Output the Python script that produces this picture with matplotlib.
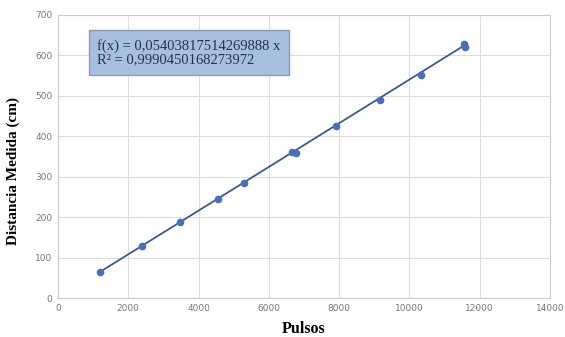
import matplotlib.pyplot as plt
import numpy as np

# measured data
pulsos = [1200, 2380, 3480, 4550, 5300, 6650, 6780, 7920, 9150, 10340, 11560, 11580]
distancia = [64, 128, 188, 245, 285, 360, 358, 425, 490, 552, 628, 620]

slope = 0.05403817514269888
eq_text = "f(x) = 0,05403817514269888 x\nR² = 0,9990450168273972"

fig = plt.figure(figsize=(5.65, 3.37), dpi=100)
ax = fig.add_axes([58/565, 1-298/337, (550-58)/565, (298-15)/337])

# trendline through origin
xfit = np.array([min(pulsos), max(pulsos)])
ax.plot(xfit, slope*xfit, color='#3d5a8a', lw=1.3, zorder=3)
ax.plot(pulsos, distancia, 'o', color='#4a6fb5', ms=4.5, zorder=4)

ax.set_xlim(0, 14000)
ax.set_ylim(0, 700)
ax.set_xticks(np.arange(0, 14001, 2000))
ax.set_yticks(np.arange(0, 701, 100))
ax.grid(True, color='#dddddd', lw=0.8)
ax.set_axisbelow(True)
for s in ['top', 'right', 'left', 'bottom']:
    ax.spines[s].set_color('#cccccc')
ax.tick_params(length=0, labelsize=6.5, colors='#777777', pad=4)

ax.set_xlabel('Pulsos', family='Liberation Serif', fontweight='bold', fontsize=11.5, labelpad=6)
ax.set_ylabel('Distancia Medida (cm)', family='Liberation Serif', fontweight='bold', fontsize=11)
ax.yaxis.set_label_coords(-0.078, 0.45)

ax.text(0.08, 0.915, eq_text, transform=ax.transAxes, family='Liberation Serif',
        fontsize=10.5, va='top', ha='left', color='#223355', linespacing=1.0,
        bbox=dict(boxstyle='square,pad=0.6', fc='#a9bfe0', ec='#8a9ab5', lw=1))

fig.savefig('out.png', dpi=100)
